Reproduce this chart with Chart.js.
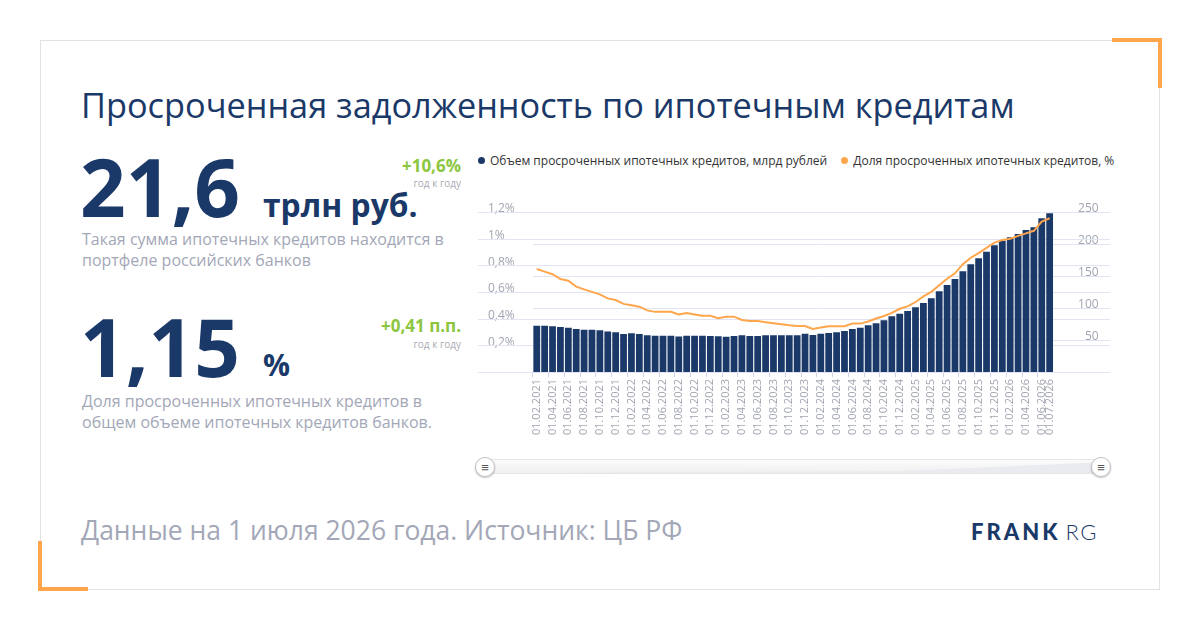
<!DOCTYPE html>
<html lang="ru">
<head>
<meta charset="UTF-8">
<title>Просроченная задолженность по ипотечным кредитам</title>
<script src="https://cdn.jsdelivr.net/npm/chart.js"></script>
<style>
    body {
        margin: 0;
        width: 1200px;
        height: 630px;
        background: #fff;
        font-family: "Open Sans", Arial, sans-serif;
        position: relative;
        overflow: hidden;
    }
    .frame {
        position: absolute;
        left: 40px; top: 40px;
        width: 1120px; height: 550px;
        box-sizing: border-box;
        border: 1px solid #e2e2e2;
    }
    .corner { position: absolute; background: #ffa64d; }
    .t { position: absolute; white-space: nowrap; line-height: 1; }
    .navy { color: #1b3968; }
    .green { color: #8cc63e; font-weight: 700; font-size: 17px; }
    .yoy { color: #a9abb3; font-size: 10px; }
    .desc { position: absolute; color: #a3a7b7; font-size: 16px; line-height: 21.3px; width: 370px; }
    #legend {
        position: absolute; left: 478px; top: 152px;
        font-size: 12px; color: #333; white-space: nowrap;
    }
    #legend span.item { margin-right: 14px; }
    #legend i {
        display: inline-block; width: 7px; height: 7px; border-radius: 50%;
        margin-right: 5px; vertical-align: 1px;
    }
    #chartBox { position: absolute; left: 468px; top: 190px; width: 652px; height: 255px; }
    .track {
        position: absolute; left: 482px; top: 459px; width: 626px; height: 15px;
        box-sizing: border-box; border: 1px solid #e6e6e6; border-radius: 8px;
        background: linear-gradient(#fbfbfb, #f0f0f0);
        overflow: hidden;
    }
    .handle {
        position: absolute; width: 18px; height: 18px; border-radius: 50%;
        background: #fff; border: 1px solid #c4c4c4;
        box-shadow: 0 1px 2px rgba(0,0,0,0.25);
        font-size: 13px; line-height: 18px; text-align: center; color: #555;
    }
</style>
</head>
<body>
    <div class="frame"></div>
    <div class="corner" style="left:1112px; top:38px; width:50px; height:4px;"></div>
    <div class="corner" style="left:1158px; top:38px; width:4px; height:50px;"></div>
    <div class="corner" style="left:38px; top:541px; width:4px; height:50px;"></div>
    <div class="corner" style="left:38px; top:587px; width:50px; height:4px;"></div>

    <div class="t navy" style="left:81px; top:88px; font-size:34.3px;">Просроченная задолженность по ипотечным кредитам</div>

    <div class="t navy" style="left:80px; top:146px; font-size:80px; font-weight:700;">21,6</div>
    <div class="t navy" style="left:263px; top:189px; font-size:31.8px; font-weight:700;">трлн руб.</div>
    <div class="t green" style="right:739px; top:157px;">+10,6%</div>
    <div class="t yoy" style="right:739px; top:178px;">год к году</div>
    <div class="desc" style="left:82px; top:229px;">Такая сумма ипотечных кредитов находится в портфеле российских банков</div>

    <div class="t navy" style="left:80px; top:306px; font-size:80px; font-weight:700;">1,15</div>
    <div class="t navy" style="left:263px; top:350px; font-size:30px; font-weight:700;">%</div>
    <div class="t green" style="right:739px; top:317px;">+0,41 п.п.</div>
    <div class="t yoy" style="right:739px; top:339px;">год к году</div>
    <div class="desc" style="left:82px; top:391px;">Доля просроченных ипотечных кредитов в общем объеме ипотечных кредитов банков.</div>

    <div class="t" style="left:81px; top:517px; font-size:26.5px; color:#a3a7b7;">Данные на 1 июля 2026 года. Источник: ЦБ РФ</div>
    <div class="t navy" style="left:971px; top:521px; font-family:Lato, sans-serif; font-size:22px;">
        <span style="font-weight:900; letter-spacing:3px;">FRANK</span><span style="font-weight:300; letter-spacing:1.5px; margin-left:5px;">RG</span>
    </div>

    <div id="legend"></div>
    <div id="chartBox"><canvas id="debtChart" width="652" height="255"></canvas></div>

    <div class="track">
        <svg width="626" height="15" style="position:absolute; left:0; top:0;">
            <polygon points="0,14 626,14 626,2 420,11 0,13" fill="#e9ebf0"></polygon>
        </svg>
    </div>
    <div class="handle" style="left:475px; top:457px;">&#8801;</div>
    <div class="handle" style="left:1091px; top:457px;">&#8801;</div>

    <script>
        const dates = [
            '01.02.2021', '01.03.2021', '01.04.2021', '01.05.2021', '01.06.2021', '01.07.2021',
            '01.08.2021', '01.09.2021', '01.10.2021', '01.11.2021', '01.12.2021',
            '01.01.2022', '01.02.2022', '01.03.2022', '01.04.2022', '01.05.2022', '01.06.2022',
            '01.07.2022', '01.08.2022', '01.09.2022', '01.10.2022', '01.11.2022', '01.12.2022',
            '01.01.2023', '01.02.2023', '01.03.2023', '01.04.2023', '01.05.2023', '01.06.2023',
            '01.07.2023', '01.08.2023', '01.09.2023', '01.10.2023', '01.11.2023', '01.12.2023',
            '01.01.2024', '01.02.2024', '01.03.2024', '01.04.2024', '01.05.2024', '01.06.2024',
            '01.07.2024', '01.08.2024', '01.09.2024', '01.10.2024', '01.11.2024', '01.12.2024',
            '01.01.2025', '01.02.2025', '01.03.2025', '01.04.2025', '01.05.2025', '01.06.2025',
            '01.07.2025', '01.08.2025', '01.09.2025', '01.10.2025', '01.11.2025', '01.12.2025',
            '01.01.2026', '01.02.2026', '01.03.2026', '01.04.2026', '01.05.2026', '01.06.2026',
            '01.07.2026'
        ];

        // overdue mortgage debt, bn rub (right axis)
        const overdueVolume = [
            72.4, 72.4, 71.6, 70.3, 69.3, 67.2, 66.1, 66.1, 65.1, 63.3,
            62, 59.2, 60.4, 59.2, 57.6, 56.6, 56.6, 56.6, 55.5, 56.6,
            56.6, 56.6, 56.3, 56, 55.2, 56.3, 57.3, 56.3, 56.3, 57.3,
            57.3, 57.3, 57.3, 57.5, 59.9, 57.8, 59.9, 60.9, 62, 64.1,
            67.2, 69.3, 72.9, 76, 81, 87, 91.1, 95.3, 101, 107.8,
            115.1, 126, 135.9, 145.3, 157.3, 168.2, 177.6, 188, 197.9, 205.2,
            210.4, 215.6, 221.9, 226, 240.1, 247.9
        ];

        // share of overdue loans, % (left axis)
        const overdueShare = [
            0.773, 0.753, 0.733, 0.697, 0.685, 0.64, 0.62, 0.601, 0.582, 0.552,
            0.54, 0.511, 0.5, 0.49, 0.462, 0.451, 0.451, 0.451, 0.432, 0.442,
            0.432, 0.422, 0.422, 0.403, 0.415, 0.415, 0.39, 0.383, 0.383, 0.373,
            0.365, 0.358, 0.35, 0.345, 0.345, 0.323, 0.334, 0.343, 0.343, 0.343,
            0.363, 0.363, 0.379, 0.401, 0.42, 0.443, 0.474, 0.492, 0.525, 0.567,
            0.601, 0.651, 0.699, 0.74, 0.809, 0.857, 0.892, 0.931, 0.97, 0.99,
            0.999, 1.021, 1.04, 1.059, 1.128, 1.153
        ];

        const seriesNames = [
            'Объем просроченных ипотечных кредитов, млрд рублей',
            'Доля просроченных ипотечных кредитов, %'
        ];

        const navy = '#1b3968';
        const orange = '#ffa64d';
        const gridColor = '#e1e5f1';
        const labelColor = '#a2a5b1';

        // grid lines reach past the plot like in the original widget
        const wideGrid = {
            id: 'wideGrid',
            beforeDatasetsDraw(chart) {
                const { ctx, chartArea, scales } = chart;
                const xStart = 10, xEnd = 642;
                ctx.save();
                ctx.strokeStyle = gridColor;
                ctx.lineWidth = 1;
                scales.y.ticks.forEach(t => {
                    const y = Math.round(scales.y.getPixelForValue(t.value)) + 0.5;
                    ctx.beginPath(); ctx.moveTo(xStart, y); ctx.lineTo(xEnd, y); ctx.stroke();
                });
                scales.y1.ticks.forEach(t => {
                    if (t.value === 0) return;
                    const y = Math.round(scales.y1.getPixelForValue(t.value)) + 0.5;
                    ctx.beginPath(); ctx.moveTo(chartArea.left, y); ctx.lineTo(xEnd, y); ctx.stroke();
                });
                ctx.restore();
            }
        };

        const chart = new Chart(document.getElementById('debtChart'), {
            data: {
                labels: dates,
                datasets: [
                    {
                        type: 'line',
                        label: seriesNames[1],
                        data: overdueShare,
                        yAxisID: 'y',
                        borderColor: orange,
                        backgroundColor: orange,
                        borderWidth: 2,
                        pointRadius: 0,
                        tension: 0,
                        order: 1
                    },
                    {
                        type: 'bar',
                        label: seriesNames[0],
                        data: overdueVolume,
                        yAxisID: 'y1',
                        backgroundColor: navy,
                        barPercentage: 0.86,
                        categoryPercentage: 1,
                        order: 2
                    }
                ]
            },
            options: {
                responsive: false,
                animation: false,
                devicePixelRatio: 1,
                layout: { padding: { left: 20, right: 21.4, top: 22, bottom: 0 } },
                plugins: { legend: { display: false }, tooltip: { enabled: false } },
                scales: {
                    x: {
                        grid: {
                            drawOnChartArea: false,
                            tickLength: 5,
                            color: c => (c.index % 2 === 0 ? '#ccd3e6' : 'transparent')
                        },
                        border: { display: false },
                        ticks: {
                            autoSkip: false,
                            minRotation: 90,
                            maxRotation: 90,
                            padding: 2,
                            color: labelColor,
                            font: { family: 'Open Sans', size: 11 },
                            callback: (v, i) => (i % 2 === 0 || i === dates.length - 1 ? dates[i] : '')
                        },
                        afterFit: s => { s.height = 73; }
                    },
                    y: {
                        position: 'left',
                        min: 0,
                        max: 1.2,
                        grid: { display: false },
                        border: { display: false },
                        ticks: {
                            stepSize: 0.2,
                            crossAlign: 'far',
                            labelOffset: -3,
                            color: labelColor,
                            font: { family: 'Open Sans', size: 12 },
                            callback: v => (v === 0 ? '' : String(+v.toFixed(1)).replace('.', ',') + '%')
                        },
                        afterFit: s => { s.width = 44.8; }
                    },
                    y1: {
                        position: 'right',
                        min: 0,
                        max: 250,
                        grid: { display: false },
                        border: { display: false },
                        ticks: {
                            stepSize: 50,
                            crossAlign: 'far',
                            labelOffset: -3,
                            color: labelColor,
                            font: { family: 'Open Sans', size: 12 },
                            callback: v => (v === 0 ? '' : v)
                        },
                        afterFit: s => { s.width = 45; }
                    }
                }
            },
            plugins: [wideGrid]
        });

        // legend in the order of the original: bars first, then line
        const legend = document.getElementById('legend');
        chart.data.datasets.slice().reverse().forEach(ds => {
            const item = document.createElement('span');
            item.className = 'item';
            item.innerHTML = '<i style="background:' + ds.backgroundColor + '"></i>' + ds.label;
            legend.appendChild(item);
        });
    </script>
</body>
</html>
